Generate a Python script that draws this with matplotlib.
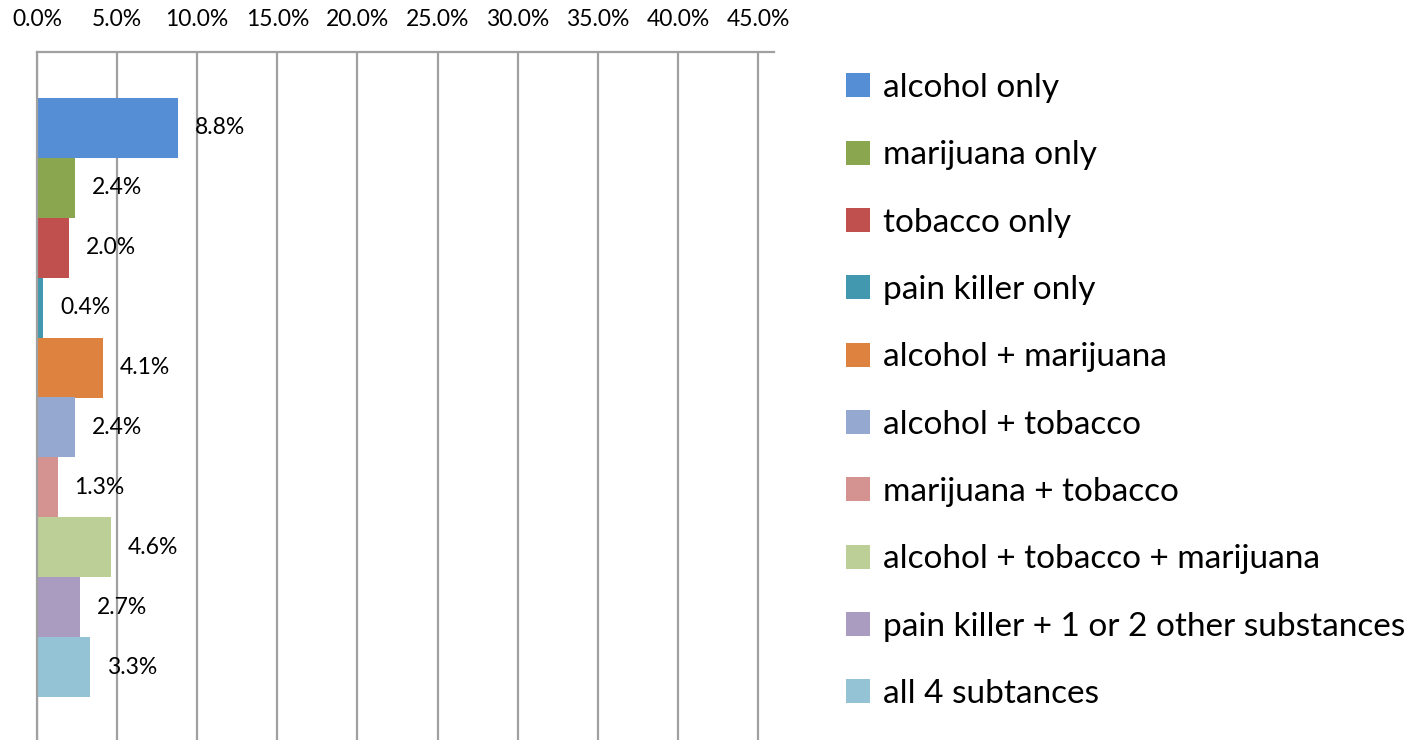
import matplotlib
matplotlib.use("Agg")
import matplotlib.pyplot as plt
from matplotlib.ticker import FuncFormatter

# substance use groups and their share (%)
groups = ["alcohol only", "marijuana only", "tobacco only", "pain killer only",
          "alcohol + marijuana", "alcohol + tobacco", "marijuana + tobacco",
          "alcohol + tobacco + marijuana", "pain killer + 1 or 2 other substances",
          "all 4 subtances"]
share = [8.8, 2.4, 2.0, 0.4, 4.1, 2.4, 1.3, 4.6, 2.7, 3.3]
colors = ["#558ED5", "#8AA64E", "#C0504D", "#4298AE", "#DE833F",
          "#95A9D0", "#D49290", "#BBCF97", "#AA9BC0", "#93C3D5"]
xticks = [0, 5, 10, 15, 20, 25, 30, 35, 40, 45]

plt.rcParams['font.family'] = ['Lato', 'DejaVu Sans']

fig = plt.figure(figsize=(14.16, 7.4), dpi=100)
ax = fig.add_axes([37 / 1416, -3 / 740, 737 / 1416, 691 / 740])

pos = list(range(len(share)))
bars = ax.barh(pos, share, height=1.0, color=colors)
ax.bar_label(bars, labels=["%.1f%%" % v for v in share], padding=12, fontsize=16.5)

ax.set_xlim(0, 46)
ax.set_ylim(9.5 + 0.768, -0.5 - 0.768)
ax.set_xticks(xticks)
ax.xaxis.set_major_formatter(FuncFormatter(lambda v, p: "%.1f%%" % v))
ax.xaxis.tick_top()
ax.tick_params(axis='x', length=0, pad=16, labelsize=16.5)
ax.set_yticks([])
ax.grid(axis='x', color='#A0A0A0', linewidth=1.6)
ax.set_axisbelow(True)
for side in ['right', 'bottom']:
    ax.spines[side].set_visible(False)
ax.spines['top'].set_color('#A0A0A0')
ax.spines['top'].set_linewidth(1.6)
ax.spines['left'].set_color('#A0A0A0')
ax.spines['left'].set_linewidth(1.6)

handles = [bars[i] for i in pos]
fig.legend(handles, groups, loc='upper left', bbox_to_anchor=(846 / 1416, 1 - 73 / 740),
           frameon=False, fontsize=24, handlelength=0.72, handleheight=0.72,
           handletextpad=0.38, labelspacing=1.12, borderpad=0, borderaxespad=0)

fig.savefig("out.png", dpi=100)
